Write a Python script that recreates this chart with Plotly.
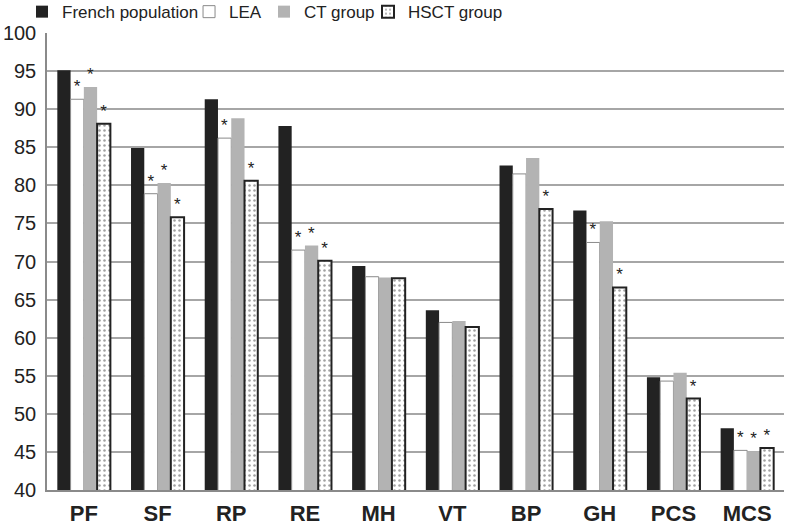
import plotly.graph_objects as go

categories = ["PF", "SF", "RP", "RE", "MH", "VT", "BP", "GH", "PCS", "MCS"]
french_population = [95.1, 84.9, 91.3, 87.8, 69.4, 63.6, 82.6, 76.7, 54.8, 48.1]
lea = [91.3, 78.9, 86.2, 71.5, 68.0, 62.0, 81.5, 72.5, 54.3, 45.2]
ct_group = [92.9, 80.3, 88.8, 72.1, 67.9, 62.2, 83.6, 75.3, 55.4, 45.1]
hsct_group = [88.1, 75.8, 80.6, 70.1, 67.8, 61.4, 76.9, 66.6, 52.0, 45.5]

# significance markers (1 = asterisk shown above bar)
lea_sig = [1, 1, 1, 1, 0, 0, 0, 1, 0, 1]
ct_sig = [1, 1, 0, 1, 0, 0, 0, 0, 0, 1]
hsct_sig = [1, 1, 1, 1, 0, 0, 1, 1, 1, 1]

y_ticks = list(range(40, 101, 5))

FONT = "Liberation Sans, Arial, sans-serif"


def stars(flags):
    return ["*" if f else "" for f in flags]


fig = go.Figure()
fig.add_trace(go.Bar(
    name="French population", x=categories, y=french_population,
    marker=dict(color="#222222", line=dict(width=0)),
    legend="legend",
))
fig.add_trace(go.Bar(
    name="LEA", x=categories, y=lea,
    marker=dict(color="#ffffff", line=dict(color="#8a8a8a", width=1)),
    text=stars(lea_sig), textposition="outside",
    legend="legend2",
))
fig.add_trace(go.Bar(
    name="CT group", x=categories, y=ct_group,
    marker=dict(color="#b3b3b3", line=dict(width=0)),
    text=stars(ct_sig), textposition="outside",
    legend="legend3",
))
fig.add_trace(go.Bar(
    name="HSCT group", x=categories, y=hsct_group,
    marker=dict(color="#ffffff", line=dict(color="#222222", width=2),
                pattern=dict(shape=".", fgcolor="#444444", bgcolor="#ffffff",
                             size=5, solidity=0.2)),
    text=stars(hsct_sig), textposition="outside",
    legend="legend4",
))

fig.update_traces(
    textfont=dict(family=FONT, size=17, color="#222222"),
    constraintext="none", cliponaxis=False, textangle=0,
    selector=dict(type="bar"),
)


def legend_at(xfrac):
    return dict(
        orientation="h", xref="container", x=xfrac, xanchor="left",
        yref="container", y=0.977, yanchor="middle",
        font=dict(family=FONT, size=17, color="#222222"),
        itemwidth=30, bgcolor="rgba(0,0,0,0)",
    )


fig.update_layout(
    width=786, height=526,
    margin=dict(l=47, r=2, t=33, b=36, autoexpand=False),
    paper_bgcolor="#ffffff", plot_bgcolor="#ffffff",
    barmode="group", bargap=0.28, bargroupgap=0,
    font=dict(family=FONT, color="#222222"),
    showlegend=True,
    legend=legend_at(0.028),
    legend2=legend_at(0.2405),
    legend3=legend_at(0.3359),
    legend4=legend_at(0.4682),
    xaxis=dict(
        tickfont=dict(family=FONT, size=22, color="#222222", weight="bold"),
        showline=True, linecolor="#8a8a8a", linewidth=1.5,
        ticks="", ticklabelstandoff=3, showgrid=False, automargin=False,
    ),
    yaxis=dict(
        range=[40, 100], tickvals=y_ticks,
        tickfont=dict(family=FONT, size=20, color="#222222"),
        showgrid=True, gridcolor="#a6a6a6", gridwidth=1.5,
        showline=True, linecolor="#8a8a8a", linewidth=1.5,
        ticks="", zeroline=False, ticklabelstandoff=5, automargin=False,
    ),
)

# remove the browser's default page margin so the figure fills the window
fig.write_html(
    "out.html",
    config={"displayModeBar": False},
    post_script="document.body.style.margin='0px'; document.body.style.overflow='hidden';",
)
